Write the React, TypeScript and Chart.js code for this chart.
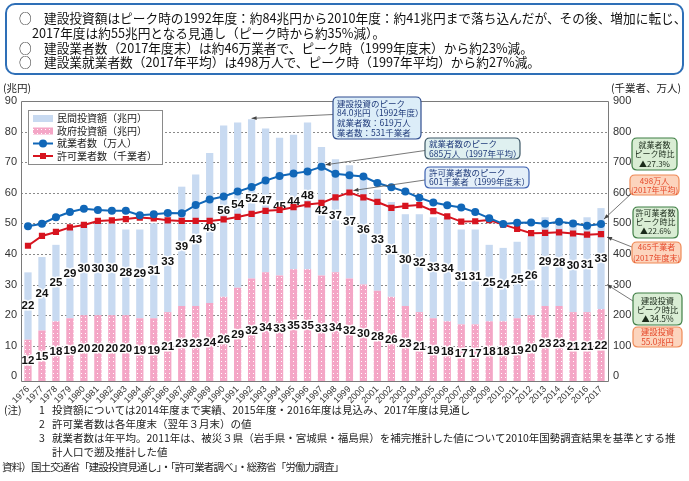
import React, { useEffect, useRef } from 'react';
import { Chart, registerables } from 'chart.js';

Chart.register(...registerables);

const years = ['1976','1977','1978','1979','1980','1981','1982','1983','1984','1985','1986','1987','1988','1989','1990','1991','1992','1993','1994','1995','1996','1997','1998','1999','2000','2001','2002','2003','2004','2005','2006','2007','2008','2009','2010','2011','2012','2013','2014','2015','2016','2017'];
const govInvestment = [12,15,18,19,20,20,20,20,19,19,21,23,23,24,26,29,32,34,33,35,35,33,34,32,30,28,26,23,21,19,18,17,17,18,18,19,20,23,23,21,21,22];
const privateInvestment = [22,24,25,29,30,30,30,28,29,31,33,39,43,49,56,54,52,47,45,44,48,42,37,37,36,33,31,30,32,33,34,31,31,25,24,25,26,29,28,30,31,33];
const workers = [491,499,520,537,548,544,541,541,527,530,534,533,560,578,588,604,619,640,655,663,670,685,662,657,653,632,618,604,584,568,559,552,537,517,498,502,503,499,505,500,492,498];
const licensedFirms = [427,459,472,487,495,508,510,514,519,516,510,508,508,508,513,521,531,541,544,553,562,567,585,601,585,570,551,557,560,540,523,506,507,511,496,482,468,469,471,467,463,465];
const leftTickStep = 10;
const rightTickStep = 100;

const CJK = '"Noto Sans CJK JP", sans-serif';
const LAT = '"Liberation Sans", Arial, sans-serif';

function roundRect(ctx: CanvasRenderingContext2D, x: number, y: number, w: number, h: number, r: number) {
  ctx.beginPath();
  ctx.moveTo(x + r, y);
  ctx.lineTo(x + w - r, y);
  ctx.quadraticCurveTo(x + w, y, x + w, y + r);
  ctx.lineTo(x + w, y + h - r);
  ctx.quadraticCurveTo(x + w, y + h, x + w - r, y + h);
  ctx.lineTo(x + r, y + h);
  ctx.quadraticCurveTo(x, y + h, x, y + h - r);
  ctx.lineTo(x, y + r);
  ctx.quadraticCurveTo(x, y, x + r, y);
  ctx.closePath();
}

function arrow(ctx: CanvasRenderingContext2D, x1: number, y1: number, x2: number, y2: number) {
  ctx.save();
  ctx.strokeStyle = '#555';
  ctx.fillStyle = '#444';
  ctx.lineWidth = 0.8;
  ctx.beginPath();
  ctx.moveTo(x1, y1);
  ctx.lineTo(x2, y2);
  ctx.stroke();
  const a = Math.atan2(y2 - y1, x2 - x1);
  const L = 5, W = 2;
  ctx.beginPath();
  ctx.moveTo(x2, y2);
  ctx.lineTo(x2 - L * Math.cos(a) + W * Math.sin(a), y2 - L * Math.sin(a) - W * Math.cos(a));
  ctx.lineTo(x2 - L * Math.cos(a) - W * Math.sin(a), y2 - L * Math.sin(a) + W * Math.cos(a));
  ctx.closePath();
  ctx.fill();
  ctx.restore();
}

function box(ctx: CanvasRenderingContext2D, x: number, y: number, w: number, h: number, fill: string, stroke: string, color: string, lines: string[], ys: number[], align: 'left' | 'center', size = 8.5) {
  ctx.save();
  roundRect(ctx, x, y, w, h, 5);
  ctx.fillStyle = fill;
  ctx.fill();
  ctx.strokeStyle = stroke;
  ctx.lineWidth = 1.2;
  ctx.stroke();
  ctx.fillStyle = color;
  ctx.font = `${size}px ${CJK}`;
  ctx.textBaseline = 'middle';
  ctx.textAlign = align;
  lines.forEach((t, i) => {
    ctx.fillText(t, align === 'left' ? x + 4 : x + w / 2, ys[i]);
  });
  ctx.restore();
}

function makePattern(ctx: CanvasRenderingContext2D) {
  const c = document.createElement('canvas');
  c.width = 4; c.height = 4;
  const g = c.getContext('2d')!;
  g.fillStyle = '#f4a6c6';
  g.fillRect(0, 0, 4, 4);
  g.fillStyle = '#ffffff';
  g.fillRect(1, 1, 1, 1);
  return ctx.createPattern(c, 'repeat')!;
}

const LEFT_MIN = -1.5;

export default function App() {
  const ref = useRef<HTMLCanvasElement>(null);
  useEffect(() => {
    document.body.style.margin = '0';
    const canvas = ref.current!;
    const ctx = canvas.getContext('2d')!;
    const pattern = makePattern(ctx);

    const overlay = {
      id: 'overlay',
      beforeDatasetsDraw(chart: any) {
        const { ctx, chartArea: a, scales } = chart;
        ctx.save();
        ctx.strokeStyle = '#8a8a8a';
        ctx.lineWidth = 1;
        ctx.setLineDash([2, 2]);
        for (let v = leftTickStep; v < 90; v += leftTickStep) {
          const py = Math.round(scales.y.getPixelForValue(v)) + 0.5;
          ctx.beginPath();
          ctx.moveTo(a.left, py);
          ctx.lineTo(a.right, py);
          ctx.stroke();
        }
        ctx.restore();
      },
      afterDatasetDraw(chart: any, args: any) {
        if (args.index !== 0) return;
        const { ctx, scales } = chart;
        ctx.save();
        ctx.font = `bold 11.5px ${LAT}`;
        ctx.textAlign = 'center';
        ctx.textBaseline = 'middle';
        ctx.lineJoin = 'round';
        ctx.lineWidth = 3;
        ctx.strokeStyle = 'rgba(255,255,255,0.95)';
        ctx.fillStyle = '#111';
        years.forEach((_, i) => {
          const x = scales.x.getPixelForValue(i);
          const g = govInvestment[i];
          const p = privateInvestment[i];
          const yg = scales.y.getPixelForValue(g / 2) + 3;
          const yp = scales.y.getPixelForValue(g + p / 2);
          ctx.strokeText(String(g), x, yg);
          ctx.fillText(String(g), x, yg);
          ctx.strokeText(String(p), x, yp);
          ctx.fillText(String(p), x, yp);
        });
        ctx.restore();
      },
      afterDraw(chart: any) {
        const { ctx, chartArea: a, scales } = chart;
        const xs = scales.x, ys = scales.y, yr = scales.y1;
        ctx.save();
        // frame
        ctx.strokeStyle = '#7a7a7a';
        ctx.lineWidth = 1;
        ctx.beginPath();
        ctx.moveTo(a.left + 0.5, a.bottom + 0.5);
        ctx.lineTo(a.left + 0.5, a.top + 0.5);
        ctx.lineTo(a.right + 0.5, a.top + 0.5);
        ctx.lineTo(a.right + 0.5, a.bottom + 0.5);
        ctx.closePath();
        ctx.stroke();
        // axis titles
        ctx.fillStyle = '#222';
        ctx.font = `10.5px ${CJK}`;
        ctx.textBaseline = 'middle';
        ctx.textAlign = 'left';
        ctx.fillText('(兆円)', 3, 88);
        ctx.fillText('(千業者、万人)', 611, 88);

        // legend
        ctx.fillStyle = '#fff';
        ctx.fillRect(28.5, 110.5, 134, 54);
        ctx.strokeStyle = '#8a8a8a';
        ctx.strokeRect(28.5, 110.5, 134, 54);
        ctx.fillStyle = '#c8daf1';
        ctx.fillRect(33, 115, 20, 7);
        ctx.fillStyle = pattern;
        ctx.fillRect(33, 127.5, 20, 7);
        ctx.strokeStyle = '#1167b8';
        ctx.lineWidth = 2;
        ctx.beginPath(); ctx.moveTo(33, 143.5); ctx.lineTo(53, 143.5); ctx.stroke();
        ctx.fillStyle = '#1167b8';
        ctx.beginPath(); ctx.arc(43, 143.5, 4, 0, Math.PI * 2); ctx.fill();
        ctx.strokeStyle = '#d7141f';
        ctx.beginPath(); ctx.moveTo(33, 156); ctx.lineTo(53, 156); ctx.stroke();
        ctx.fillStyle = '#d7141f';
        ctx.fillRect(40, 153, 6, 6);
        ctx.fillStyle = '#222';
        ctx.font = `10px ${CJK}`;
        ctx.textBaseline = 'middle';
        ctx.fillText('民間投資額（兆円）', 57, 118.5);
        ctx.fillText('政府投資額（兆円）', 57, 131);
        ctx.fillText('就業者数（万人）', 57, 143.5);
        ctx.fillText('許可業者数（千業者）', 57, 156);
        ctx.restore();

        const last = years.length - 1;
        // peak annotations
        arrow(ctx, 333, 114.5, xs.getPixelForValue(16), ys.getPixelForValue(govInvestment[16] + privateInvestment[16]) - 1);
        box(ctx, 333, 97, 88, 42, '#dcedf8', '#2f4d8f', '#1f3a7a',
          ['建設投資のピーク', '84.0兆円（1992年度）', '就業者数：619万人', '業者数：531千業者'],
          [103.3, 113, 122.7, 132.3], 'left');
        arrow(ctx, 425, 150.5, xs.getPixelForValue(21) + 4, yr.getPixelForValue(workers[21]) - 2);
        box(ctx, 425, 138, 95, 21, '#dff0f0', '#3d5766', '#1f3a7a',
          ['就業者数のピーク', '685万人（1997年平均）'], [143.8, 153.3], 'left');
        arrow(ctx, 425, 180, xs.getPixelForValue(23) + 4, yr.getPixelForValue(licensedFirms[23]) - 2);
        box(ctx, 425, 167, 104, 21, '#e4eff9', '#3a5fb0', '#1f3a7a',
          ['許可業者数のピーク', '601千業者（1999年度末）'], [172.5, 182.2], 'left');

        // right side annotations
        const green = ['#d9edd4', '#3f7f45', '#1a2a1a'];
        const orange = ['#fcd4bd', '#ef8a57', '#e5482a'];
        box(ctx, 632, 138, 45, 32, green[0], green[1], green[2], ['就業者数', 'ピーク時比', '▲27.3%'], [145, 154.3, 163.5], 'center', 8);
        arrow(ctx, 632, 193, xs.getPixelForValue(last) + 3, yr.getPixelForValue(workers[last]) - 5);
        box(ctx, 630, 175, 49, 20, orange[0], orange[1], orange[2], ['498万人', '(2017年平均)'], [180.8, 189.8], 'center', 8);
        box(ctx, 633, 207, 45, 31, green[0], green[1], green[2], ['許可業者数', 'ピーク時比', '▲22.6%'], [213.3, 222, 231], 'center', 8);
        arrow(ctx, 632, 247, xs.getPixelForValue(last) + 6, yr.getPixelForValue(licensedFirms[last]) + 3);
        box(ctx, 632, 242, 49, 21, orange[0], orange[1], orange[2], ['465千業者', '(2017年度末)'], [247, 257.5], 'center', 8);
        arrow(ctx, 633, 301, xs.getPixelForValue(last) + 6, ys.getPixelForValue(30));
        box(ctx, 633, 293, 49, 32, green[0], green[1], green[2], ['建設投資', 'ピーク時比', '▲34.5%'], [300.5, 310, 319.3], 'center', 8.3);
        box(ctx, 633, 327, 49, 20, orange[0], orange[1], orange[2], ['建設投資', '55.0兆円'], [332, 341.5], 'center', 8.3);
      },
    };

    const chart = new Chart(canvas, {
      type: 'bar',
      data: {
        labels: years,
        datasets: [
          { type: 'bar', label: '政府投資額（兆円）', data: govInvestment, backgroundColor: pattern as any, yAxisID: 'y', order: 3, barPercentage: 0.52, categoryPercentage: 1, borderWidth: 0, base: LEFT_MIN },
          { type: 'bar', label: '民間投資額（兆円）', data: privateInvestment, backgroundColor: '#c8daf1', yAxisID: 'y', order: 4, barPercentage: 0.52, categoryPercentage: 1, borderWidth: 0 },
          { type: 'line', label: '就業者数（万人）', data: workers, yAxisID: 'y1', order: 1, borderColor: '#1167b8', backgroundColor: '#1167b8', borderWidth: 2, pointStyle: 'circle', pointRadius: 4, pointBorderWidth: 0, tension: 0 },
          { type: 'line', label: '許可業者数（千業者）', data: licensedFirms, yAxisID: 'y1', order: 2, borderColor: '#d7141f', backgroundColor: '#d7141f', borderWidth: 2, pointStyle: 'rect', pointRadius: 4.4, pointBorderWidth: 0, tension: 0 },
        ] as any,
      },
      options: {
        responsive: false,
        animation: false,
        devicePixelRatio: 1,
        events: [],
        layout: { padding: { top: 101, bottom: 74, left: 0, right: 0 } },
        plugins: { legend: { display: false }, tooltip: { enabled: false } },
        scales: {
          x: {
            stacked: true,
            grid: { display: false, drawTicks: false },
            border: { display: false },
            ticks: { autoSkip: false, maxRotation: 45, minRotation: 45, padding: 3, color: '#333', font: { family: LAT, size: 9 } },
            afterFit: (s: any) => { s.height = 26; },
          },
          y: {
            stacked: true,
            position: 'left',
            min: LEFT_MIN,
            max: 90,
            ticks: { stepSize: leftTickStep, padding: 4, color: '#333', font: { family: LAT, size: 11 }, includeBounds: false },
            grid: { display: false, drawTicks: false },
            border: { display: false },
            afterFit: (s: any) => { s.width = 21; },
          },
          y1: {
            position: 'right',
            min: LEFT_MIN * 10,
            max: 900,
            ticks: { stepSize: rightTickStep, padding: 5, color: '#333', font: { family: LAT, size: 11 }, includeBounds: false },
            grid: { display: false, drawTicks: false },
            border: { display: false },
            afterFit: (s: any) => { s.width = 81; },
          },
        },
      } as any,
      plugins: [overlay],
    });
    return () => chart.destroy();
  }, []);

  const top: React.CSSProperties = { position: 'absolute', whiteSpace: 'nowrap', fontFamily: CJK, fontSize: 12.7, lineHeight: '16px', color: '#111' };
  const note: React.CSSProperties = { position: 'absolute', whiteSpace: 'nowrap', fontFamily: CJK, fontSize: 10.5, lineHeight: '14px', color: '#222' };

  return (
    <div style={{ position: 'relative', width: 689, height: 481, overflow: 'hidden', background: '#fff' }}>
      <canvas ref={ref} width={689} height={481} style={{ position: 'absolute', left: 0, top: 0, width: 689, height: 481 }} />
      <div style={{ position: 'absolute', left: 5, top: 3, width: 679, height: 72, boxSizing: 'border-box', border: '2px solid #2e6fb7', borderRadius: 10, background: '#fff' }} />
      <div style={{ ...top, left: 19, top: 10 }}>○</div>
      <div style={{ ...top, left: 44, top: 10 }}>建設投資額はピーク時の1992年度：約84兆円から2010年度：約41兆円まで落ち込んだが、その後、増加に転じ、</div>
      <div style={{ ...top, left: 32, top: 25 }}>2017年度は約55兆円となる見通し（ピーク時から約35%減）。</div>
      <div style={{ ...top, left: 19, top: 40 }}>○</div>
      <div style={{ ...top, left: 44, top: 40 }}>建設業者数（2017年度末）は約46万業者で、ピーク時（1999年度末）から約23%減。</div>
      <div style={{ ...top, left: 19, top: 54 }}>○</div>
      <div style={{ ...top, left: 44, top: 54 }}>建設業就業者数（2017年平均）は498万人で、ピーク時（1997年平均）から約27%減。</div>

      <div style={{ ...note, left: 4, top: 403 }}>(注)</div>
      <div style={{ ...note, left: 39, top: 403 }}>1</div>
      <div style={{ ...note, left: 52, top: 403 }}>投資額については2014年度まで実績、2015年度・2016年度は見込み、2017年度は見通し</div>
      <div style={{ ...note, left: 39, top: 417 }}>2</div>
      <div style={{ ...note, left: 52, top: 417 }}>許可業者数は各年度末（翌年３月末）の値</div>
      <div style={{ ...note, left: 39, top: 431 }}>3</div>
      <div style={{ ...note, left: 52, top: 431 }}>就業者数は年平均。2011年は、被災３県（岩手県・宮城県・福島県）を補完推計した値について2010年国勢調査結果を基準とする推</div>
      <div style={{ ...note, left: 52, top: 445 }}>計人口で遡及推計した値</div>
      <div style={{ ...note, left: 2, top: 460, letterSpacing: '-0.85px' }}>資料）国土交通省「建設投資見通し」・「許可業者調べ」・総務省「労働力調査」</div>
    </div>
  );
}
